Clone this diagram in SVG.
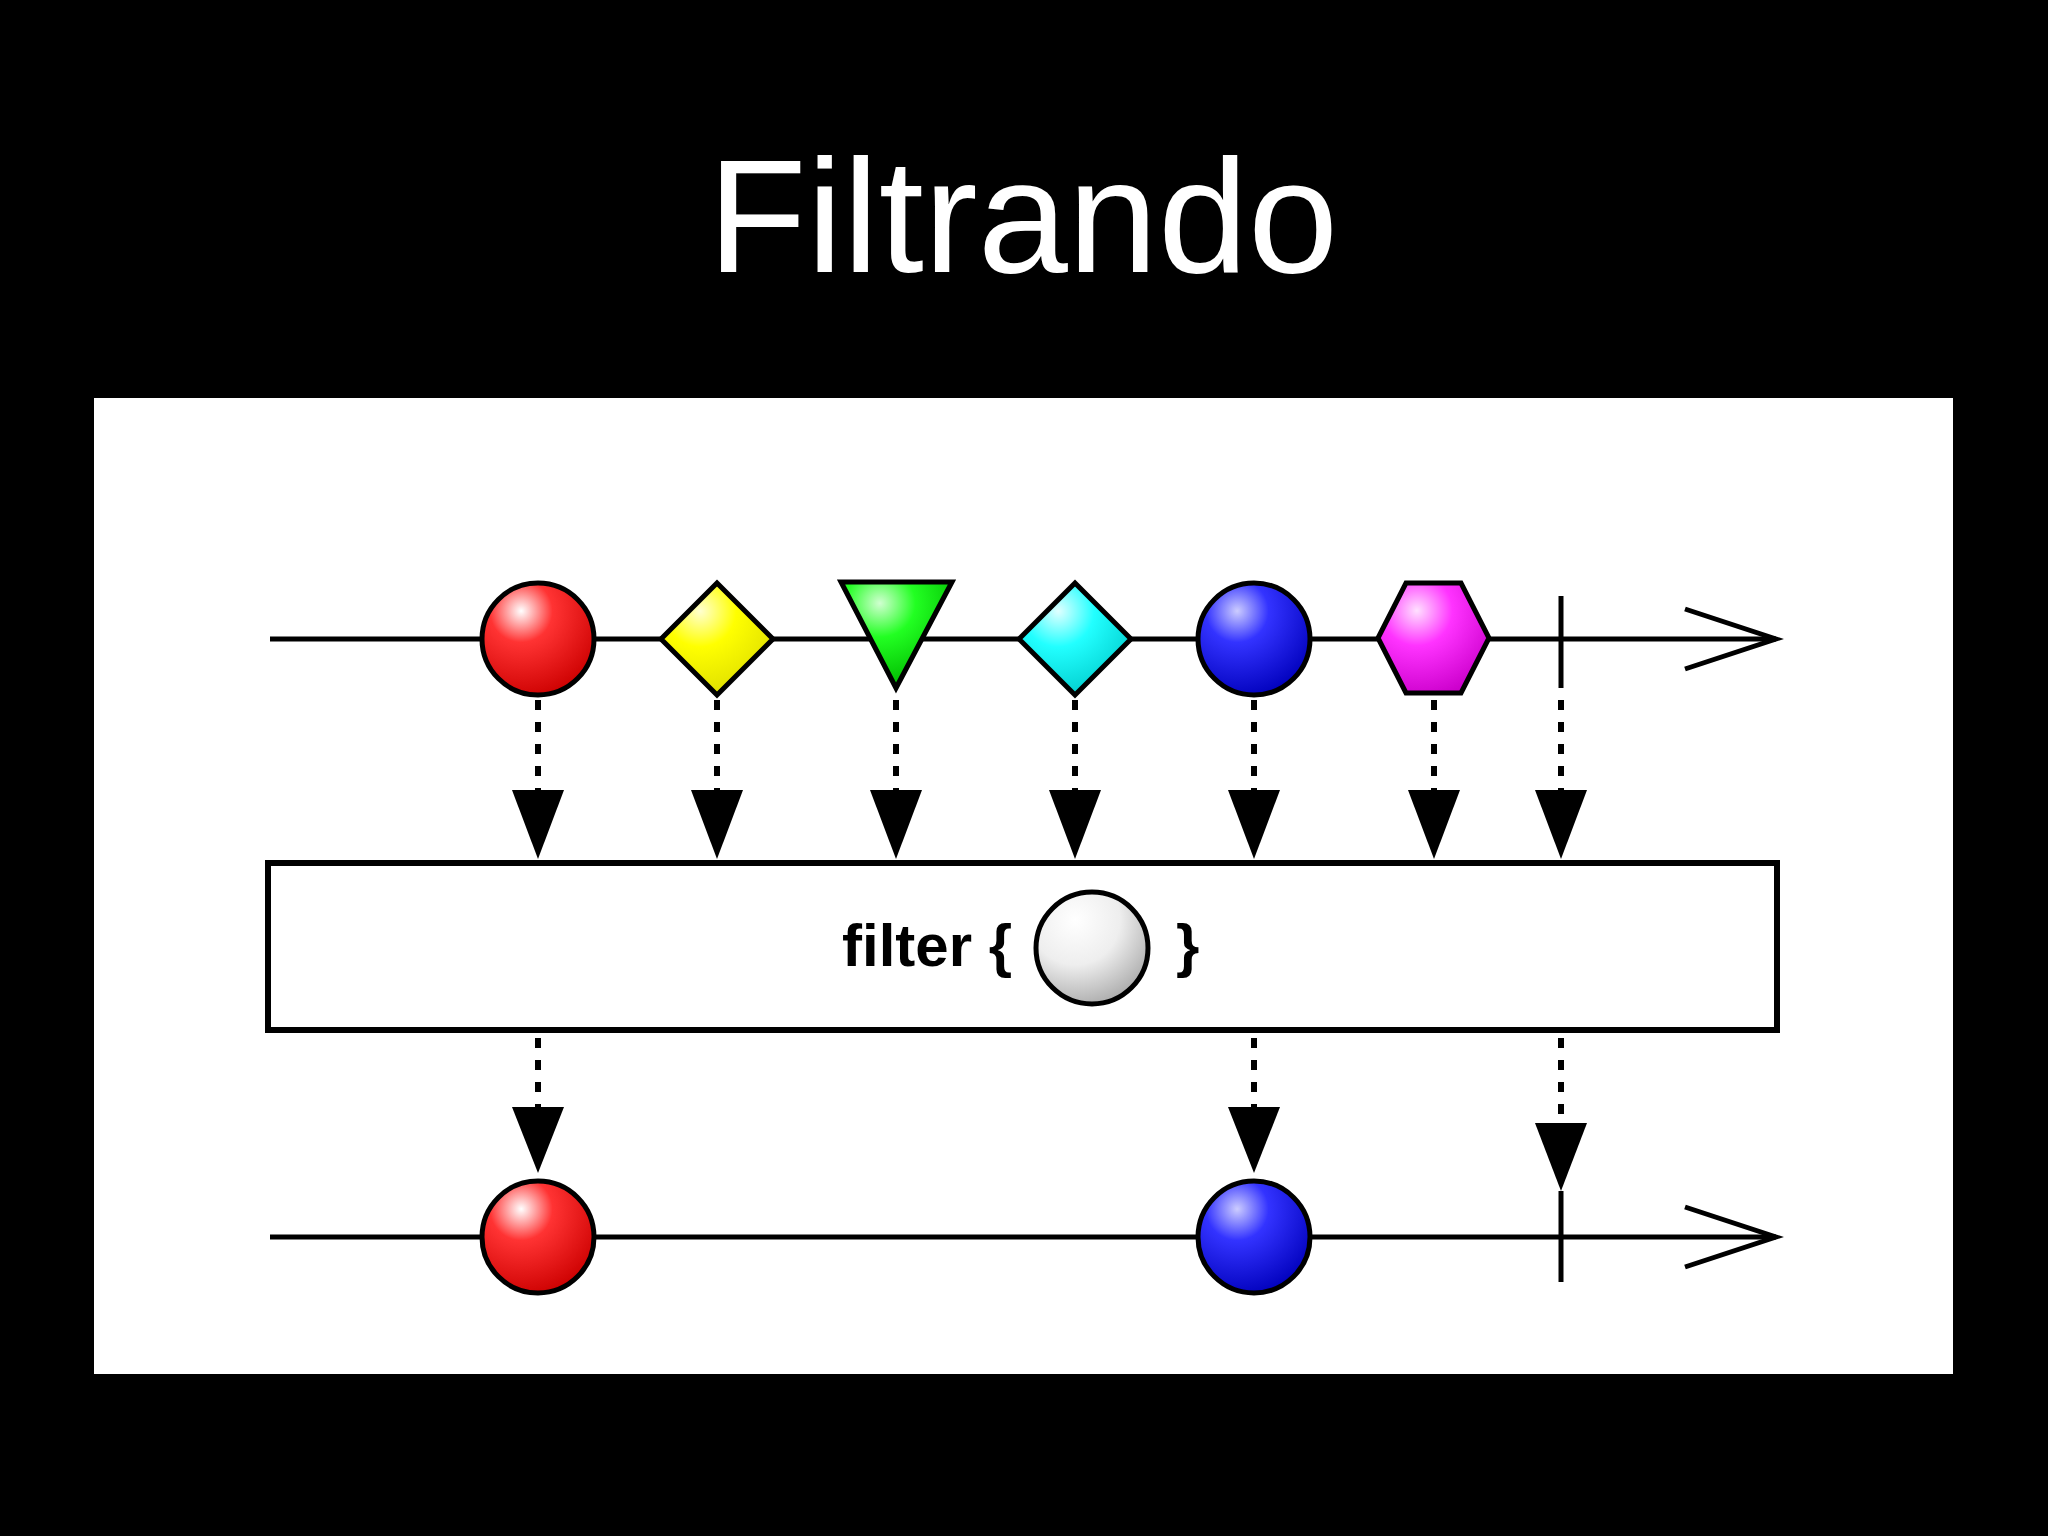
<svg xmlns="http://www.w3.org/2000/svg" width="2048" height="1536" viewBox="0 0 2048 1536">
<defs>
<radialGradient id="gr" cx="0.35" cy="0.25" r="0.8"><stop offset="0" stop-color="#fff"/><stop offset="0.35" stop-color="#f33"/><stop offset="1" stop-color="#c00"/></radialGradient>
<radialGradient id="gy" cx="0.35" cy="0.25" r="0.8"><stop offset="0" stop-color="#ffffd0"/><stop offset="0.4" stop-color="#ff0"/><stop offset="1" stop-color="#dd0"/></radialGradient>
<radialGradient id="gg" cx="0.35" cy="0.2" r="0.8"><stop offset="0" stop-color="#d0ffd0"/><stop offset="0.4" stop-color="#2f2"/><stop offset="1" stop-color="#0b0"/></radialGradient>
<radialGradient id="gc" cx="0.35" cy="0.25" r="0.8"><stop offset="0" stop-color="#e0ffff"/><stop offset="0.4" stop-color="#2ff"/><stop offset="1" stop-color="#0cc"/></radialGradient>
<radialGradient id="gb" cx="0.35" cy="0.25" r="0.8"><stop offset="0" stop-color="#ccf"/><stop offset="0.35" stop-color="#33f"/><stop offset="1" stop-color="#00b"/></radialGradient>
<radialGradient id="gm" cx="0.35" cy="0.25" r="0.8"><stop offset="0" stop-color="#ffe0ff"/><stop offset="0.4" stop-color="#f3f"/><stop offset="1" stop-color="#c0c"/></radialGradient>
<radialGradient id="gw" cx="0.35" cy="0.25" r="0.8"><stop offset="0" stop-color="#fff"/><stop offset="0.5" stop-color="#eee"/><stop offset="1" stop-color="#aaa"/></radialGradient>
<marker id="ah" markerWidth="52" markerHeight="69" refX="26" refY="69" orient="auto" markerUnits="userSpaceOnUse" viewBox="0 0 52 69"><path d="M0,0 L52,0 L26,69 Z" fill="#000"/></marker>
</defs>
<style>
.ln{stroke:#000;stroke-width:5;fill:none}
.sh{stroke:#000;stroke-width:5}
.dt{stroke:#000;stroke-width:6;stroke-dasharray:10 12;fill:none}
.hd{fill:#000}
</style>
<rect width="2048" height="1536" fill="#000"/>
<text x="1023" y="272" text-anchor="middle" font-family="Liberation Sans, Arial, sans-serif" font-size="162" fill="#fff">Filtrando</text>
<rect x="94" y="398" width="1859" height="976" fill="#fff"/>
<g id="connectors">
<line class="ln" x1="270" y1="639" x2="1776" y2="639"/>
<polyline class="ln" points="1685,609 1776,639 1685,669"/>
<line class="ln" x1="270" y1="1237" x2="1776" y2="1237"/>
<polyline class="ln" points="1685,1207 1776,1237 1685,1267"/>
<g class="dt">
<line x1="538" y1="700" x2="538" y2="790"/><line x1="717" y1="700" x2="717" y2="790"/><line x1="896" y1="700" x2="896" y2="790"/><line x1="1075" y1="700" x2="1075" y2="790"/><line x1="1254" y1="700" x2="1254" y2="790"/><line x1="1434" y1="700" x2="1434" y2="790"/><line x1="1561" y1="700" x2="1561" y2="790"/>
<line x1="538" y1="1038" x2="538" y2="1107"/><line x1="1254" y1="1038" x2="1254" y2="1107"/><line x1="1561" y1="1038" x2="1561" y2="1123"/>
</g>
<g class="hd">
<path d="M512,790 L564,790 L538,859Z"/><path d="M691,790 L743,790 L717,859Z"/><path d="M870,790 L922,790 L896,859Z"/><path d="M1049,790 L1101,790 L1075,859Z"/><path d="M1228,790 L1280,790 L1254,859Z"/><path d="M1408,790 L1460,790 L1434,859Z"/><path d="M1535,790 L1587,790 L1561,859Z"/>
<path d="M512,1107 L564,1107 L538,1173Z"/><path d="M1228,1107 L1280,1107 L1254,1173Z"/><path d="M1535,1123 L1587,1123 L1561,1191Z"/>
</g>
</g>
<g id="n-red"><circle class="sh" cx="538" cy="639" r="56" fill="url(#gr)"/></g>
<g id="n-yellow"><path class="sh" d="M717,583 L773,639 L717,695 L661,639Z" fill="url(#gy)"/></g>
<g id="n-green"><path class="sh" d="M841,582 L952,582 L896,688Z" fill="url(#gg)"/></g>
<g id="n-cyan"><path class="sh" d="M1075,583 L1131,639 L1075,695 L1019,639Z" fill="url(#gc)"/></g>
<g id="n-blue"><circle class="sh" cx="1254" cy="639" r="56" fill="url(#gb)"/></g>
<g id="n-magenta"><path class="sh" d="M1406,583 L1461,583 L1489,638 L1461,693 L1406,693 L1378,638Z" fill="url(#gm)"/></g>
<g id="n-tick1"><line class="ln" x1="1561" y1="596" x2="1561" y2="688"/></g>
<g id="n-filter">
<rect x="268" y="863" width="1509" height="167" fill="#fff" stroke="#000" stroke-width="6"/>
<text x="842" y="966" font-family="Liberation Sans, Arial, sans-serif" font-weight="bold" font-size="60" fill="#000">filter {</text>
<circle class="sh" cx="1092" cy="948" r="56" fill="url(#gw)"/>
<text x="1176" y="966" font-family="Liberation Sans, Arial, sans-serif" font-weight="bold" font-size="60" fill="#000">}</text>
</g>
<g id="n-red2"><circle class="sh" cx="538" cy="1237" r="56" fill="url(#gr)"/></g>
<g id="n-blue2"><circle class="sh" cx="1254" cy="1237" r="56" fill="url(#gb)"/></g>
<g id="n-tick2"><line class="ln" x1="1561" y1="1191" x2="1561" y2="1282"/></g>
</svg>
